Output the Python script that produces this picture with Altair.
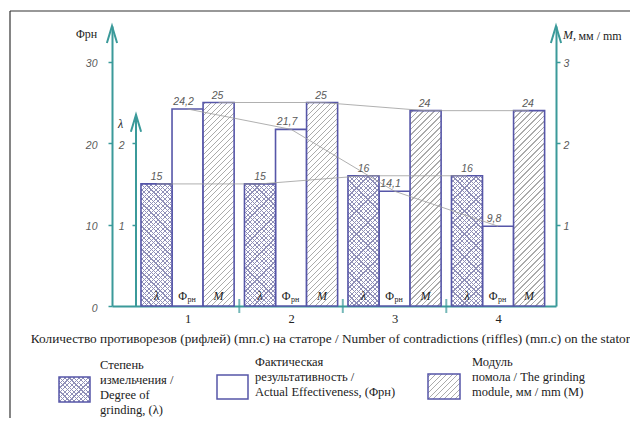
import altair as alt
import pandas as pd

# ---------------- data ----------------
groups = [1, 2, 3, 4]
lam_vals = [1.5, 1.5, 1.6, 1.6]
phi_vals = [24.2, 21.7, 14.1, 9.8]
mod_vals = [2.5, 2.5, 2.4, 2.4]
lam_text = ["15", "15", "16", "16"]
phi_text = ["24,2", "21,7", "14,1", "9,8"]
mod_text = ["25", "25", "24", "24"]
phi_ticks = [0, 10, 20, 30]
lam_ticks = [1, 2]
mod_ticks = [1, 2, 3]
lam_bar_label = "λ"
phi_bar_label = ("Φ", "рн")
mod_bar_label = "M"
phi_axis_title = "Φрн"
lam_axis_title = "λ"
mod_axis_title = ("M,", "мм / mm")
x_title = ("Количество противорезов (рифлей)  (mп.с) на статоре / "
           "Number of contradictions (riffles) (mп.с) on the stator")
legend_lam = ["Степень", "измельчения /", "\u00a0Degree of", "grinding, (λ)"]
legend_phi = ["Фактическая", "результативность /", "Actual Effectiveness, (Φрн)"]
legend_mod = ["Модуль", "помола / The grinding", "\u00a0module, мм / mm (M)"]

# ---------------- layout / style ----------------
W, H = 444, 280
PAD = {"left": 104, "top": 18, "right": 74, "bottom": 112}
X_DOM = [0.27, 4.56]
PHI_MAX = 34.4
AUX_MAX = 3.44
BW = 0.3
OFF = {"lam": -0.3, "phi": 0.0, "mod": 0.3}
LAM_AXIS_PX = 24
LAM_ARROW = 2.35
PX_X = W / (X_DOM[1] - X_DOM[0])
PX_AUX = H / AUX_MAX
LAM_AXIS_X = X_DOM[0] + LAM_AXIS_PX / PX_X

TEAL = "#3b9a9a"
EDGE = "#5656a8"
HATCH_M = "#ababab"
HATCH_L = "#9090b8"
CONNECT = "#9c9c9c"
SERIF = "Liberation Serif"
SANS = "Liberation Sans"
TXT = "#222222"
NUM = "#5a5a5a"
CLEAR = "rgba(255,255,255,0)"


def hatch(w, h, period, lw, line, bg, direction):
    # stripes in bounding-box gradient space, made to run at 45 degrees on screen
    L = w + h
    a = L / (w * w + h * h)
    if direction == "/":
        x1, y1, x2, y2 = 0, 0, a * w, a * h
    else:
        x1, y1, x2, y2 = 0, 1, a * w, 1 - a * h
    stops = [{"offset": 0, "color": bg}]
    c = period / 2
    while c - lw / 2 < L:
        s = round(max(0.0, (c - lw / 2) / L), 5)
        e = round(min(1.0, (c + lw / 2) / L), 5)
        stops += [{"offset": s, "color": bg}, {"offset": s, "color": line},
                  {"offset": e, "color": line}, {"offset": e, "color": bg}]
        c += period
    stops.append({"offset": 1, "color": bg})
    return {"gradient": "linear", "x1": x1, "y1": y1, "x2": x2, "y2": y2,
            "stops": stops}


def series_df(vals, texts, off):
    return pd.DataFrame({
        "g": groups, "v": vals, "t": texts,
        "xc": [g + off for g in groups],
        "xl": [g + off - BW / 2 for g in groups],
        "xr": [g + off + BW / 2 for g in groups],
    })


lam_df = series_df(lam_vals, lam_text, OFF["lam"])
phi_df = series_df(phi_vals, phi_text, OFF["phi"])
mod_df = series_df(mod_vals, mod_text, OFF["mod"])
one = pd.DataFrame({"k": [0]})

XS = alt.Scale(domain=X_DOM, nice=False, zero=False)


def ys_phi():
    return alt.Scale(domain=[0, PHI_MAX], nice=False)


def ys_aux():
    return alt.Scale(domain=[0, AUX_MAX], nice=False)


XAX = alt.Axis(values=groups, format="d", ticks=False, grid=False, domain=True,
               domainColor=TEAL, domainWidth=2, labelFont=SERIF,
               labelFontSize=12.5, labelColor=TXT, labelPadding=6, labelAngle=0,
               title=x_title, titleFont=SERIF, titleFontSize=13.3,
               titleFontWeight="normal", titleColor=TXT, titlePadding=7,
               titleX=218, titleAlign="center")


def xq(f):
    return alt.X(f"{f}:Q", scale=XS, axis=XAX)


def yaxis(values, orient, offset, pad, title, tx, ty, talign, tstyle, domain):
    return alt.Axis(values=values, orient=orient, offset=offset, grid=False,
                    domain=domain, domainColor=TEAL, domainWidth=2,
                    ticks=True, tickColor=TEAL, tickWidth=1.5, tickSize=4,
                    labelFont=SANS, labelFontStyle="italic", labelFontSize=10.5,
                    labelColor=NUM, labelPadding=pad, labelOffset=2,
                    title=title, titleAngle=0, titleX=tx, titleY=ty,
                    titleAlign=talign, titleBaseline="middle", titleFont=SERIF,
                    titleFontSize=12, titleFontWeight="normal",
                    titleFontStyle=tstyle, titleColor=TXT)


phi_axis = yaxis(phi_ticks, "left", 0, 11, phi_axis_title, -26, 7, "center",
                 "normal", True)
lam_axis = yaxis(lam_ticks, "left", -LAM_AXIS_PX, 8, lam_axis_title, -16, 97,
                 "center", "italic", False)
mod_axis = yaxis(mod_ticks, "right", 0, 3, mod_axis_title[1], 22, 9, "left",
                 "normal", True)


def rect_layer(df, yscale, axis=None, **mark):
    return alt.Chart(df).mark_rect(**mark).encode(
        x=xq("xl"), x2=alt.X2("xr"),
        y=alt.Y("v:Q", scale=yscale, axis=axis), y2=alt.Y2(datum=0))


layers = []

# frame
layers.append(alt.Chart(one).mark_rule(color="#333333", strokeWidth=1.2).encode(
    x=alt.value(-102), x2=alt.value(560), y=alt.value(-15)))
layers.append(alt.Chart(one).mark_rule(color="#333333", strokeWidth=1.2).encode(
    x=alt.value(-102), y=alt.value(-15), y2=alt.value(420)))

# effectiveness bars (white) carrying the left axis
layers.append(rect_layer(phi_df, ys_phi(), phi_axis, fill="white",
                         stroke=EDGE, strokeWidth=1.6))

# hatch fills
w_px = BW * PX_X
for i in range(len(groups)):
    row = lam_df.iloc[[i]]
    h = lam_vals[i] * PX_AUX
    layers.append(rect_layer(row, ys_aux(),
                             fill=hatch(w_px, h, 4.6, 1.15, HATCH_L, "white", "/")))
    layers.append(rect_layer(row, ys_aux(),
                             fill=hatch(w_px, h, 4.6, 1.15, HATCH_L, CLEAR, "\\")))
for i in range(len(groups)):
    row = mod_df.iloc[[i]]
    h = mod_vals[i] * PX_AUX
    layers.append(rect_layer(row, ys_aux(),
                             fill=hatch(w_px, h, 5.5, 1.1, HATCH_M, "white", "/")))

# outlines carrying lambda and M axes
layers.append(rect_layer(lam_df, ys_aux(), lam_axis, fill="transparent",
                         stroke=EDGE, strokeWidth=1.6))
layers.append(rect_layer(mod_df, ys_aux(), mod_axis, fill="transparent",
                         stroke=EDGE, strokeWidth=1.6))

# connecting lines
for df, sc in [(lam_df, ys_aux()), (phi_df, ys_phi()), (mod_df, ys_aux())]:
    layers.append(alt.Chart(df).mark_line(color=CONNECT, strokeWidth=0.8).encode(
        x=xq("xc"), y=alt.Y("v:Q", scale=sc, axis=None)))

# value labels
for df, sc, dx in [(lam_df, ys_aux(), 0), (phi_df, ys_phi(), -4),
                   (mod_df, ys_aux(), -1)]:
    layers.append(alt.Chart(df).mark_text(
        font=SANS, fontStyle="italic", fontSize=10.5, color=NUM,
        baseline="bottom", dy=-2, dx=dx).encode(
        x=xq("xc"), y=alt.Y("v:Q", scale=sc, axis=None), text="t:N"))


# labels inside bars
def bar_label(df, text, font, style, size, dx=0, dy=0):
    return alt.Chart(df).mark_text(
        text=text, font=font, fontStyle=style, fontSize=size, color=TXT,
        baseline="bottom", dx=dx, dy=-3 + dy).encode(
        x=xq("xc"), y=alt.Y(datum=0, scale=ys_phi(), axis=None))


layers.append(bar_label(lam_df, lam_bar_label, SERIF, "italic", 12))
layers.append(bar_label(phi_df, phi_bar_label[0], SERIF, "normal", 12, dx=-5))
layers.append(bar_label(phi_df, phi_bar_label[1], SERIF, "normal", 8, dx=4, dy=1))
layers.append(bar_label(mod_df, mod_bar_label, SERIF, "italic", 12))

# lambda axis line
layers.append(alt.Chart(pd.DataFrame({"x": [LAM_AXIS_X], "y0": [0.0],
                                      "y1": [LAM_ARROW]})).mark_rule(
    color=TEAL, strokeWidth=2).encode(
    x=xq("x"), y=alt.Y("y0:Q", scale=ys_aux(), axis=None), y2=alt.Y2("y1")))

# arrow heads
arrow_df = pd.DataFrame({"x": [X_DOM[0], LAM_AXIS_X, X_DOM[1]],
                         "y": [AUX_MAX, LAM_ARROW, AUX_MAX]})
layers.append(alt.Chart(arrow_df).mark_point(
    shape="M -0.3 1 L 0 0 L 0.3 1", size=1156, filled=False, color=TEAL,
    strokeWidth=2, opacity=1).encode(
    x=xq("x"), y=alt.Y("y:Q", scale=ys_aux(), axis=None)))

# group separators on the baseline
sep_df = pd.DataFrame({"x": [g + 0.5 for g in groups[:-1]]})
layers.append(alt.Chart(sep_df).mark_tick(
    color=TEAL, orient="vertical", size=14, thickness=2).encode(
    x=xq("x"), y=alt.Y(datum=0, scale=ys_phi(), axis=None)))

# "M," part of the right axis title
layers.append(alt.Chart(one).mark_text(
    text=mod_axis_title[0], font=SERIF, fontStyle="italic", fontSize=12,
    color=TXT, align="left", baseline="middle").encode(
    x=alt.value(451), y=alt.value(9)))


# legend swatches
def swatch(x0, x1, y0, y1, **mark):
    return alt.Chart(one).mark_rect(**mark).encode(
        x=alt.value(x0), x2=alt.value(x1), y=alt.value(y0), y2=alt.value(y1))


b1 = (-53, -22, 351, 376)
b2 = (105, 136, 349, 373)
b3 = (316, 348, 348, 373)
bw1, bh1 = b1[1] - b1[0], b1[3] - b1[2]
bw3, bh3 = b3[1] - b3[0], b3[3] - b3[2]
layers.append(swatch(*b1, fill=hatch(bw1, bh1, 4.6, 1.15, HATCH_L, "white", "/")))
layers.append(swatch(*b1, fill=hatch(bw1, bh1, 4.6, 1.15, HATCH_L, CLEAR, "\\")))
layers.append(swatch(*b1, fill="transparent", stroke=EDGE, strokeWidth=1.5))
layers.append(swatch(*b2, fill="white", stroke=EDGE, strokeWidth=1.5))
layers.append(swatch(*b3, fill=hatch(bw3, bh3, 5.5, 1.1, HATCH_M, "white", "/")))
layers.append(swatch(*b3, fill="transparent", stroke=EDGE, strokeWidth=1.5))

# legend texts (y = centre of the first line)
for lines, x, y in [(legend_lam, -12, 339), (legend_phi, 143, 336),
                    (legend_mod, 360, 336)]:
    layers.append(alt.Chart(pd.DataFrame({"t": ["\n".join(lines)]})).mark_text(
        font=SERIF, fontSize=12.5, color=TXT, align="left", baseline="middle",
        lineBreak="\n", lineHeight=15).encode(
        x=alt.value(x), y=alt.value(y), text="t:N"))

chart = alt.layer(*layers).resolve_scale(y="independent").properties(
    width=W, height=H, padding=PAD,
    autosize=alt.AutoSizeParams(type="none"),
    background="white",
).configure_view(strokeWidth=0)

chart.save("out.html", embed_options={"renderer": "svg", "actions": False})
